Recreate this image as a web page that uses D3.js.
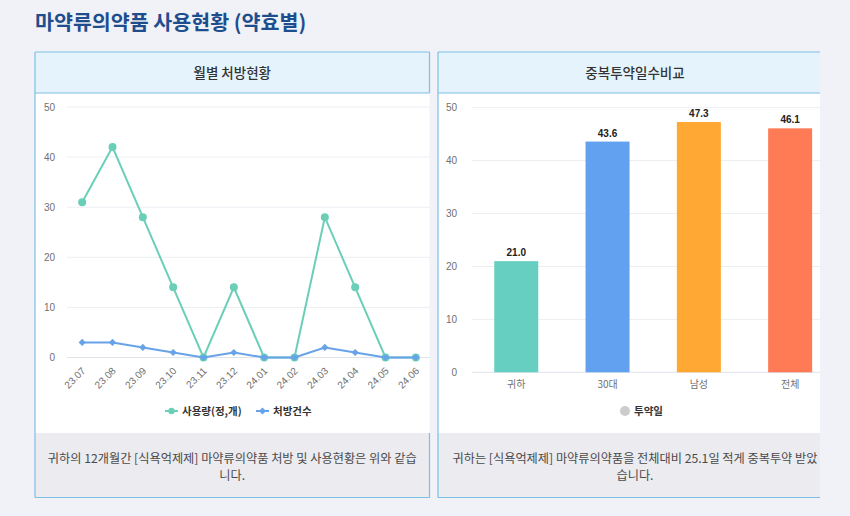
<!DOCTYPE html>
<html><head><meta charset="utf-8">
<script src="https://cdn.jsdelivr.net/npm/d3@7"></script>
<style>
html,body{margin:0;padding:0;background:#f0f2f7;}
svg{display:block;}
</style></head>
<body>
<svg id="c" width="850" height="516"></svg>
<script>
// ---------- data ----------
const months = ["23.07","23.08","23.09","23.10","23.11","23.12","24.01","24.02","24.03","24.04","24.05","24.06"];
const usage = [31,42,28,14,0,14,0,0,28,14,0,0];
const prescriptions = [3,3,2,1,0,1,0,0,2,1,0,0];
const lineTicks = [0,10,20,30,40,50];

const barCats = ["귀하","30대","남성","전체"];
const barVals = [21.0,43.6,47.3,46.1];
const barColors = ["#66cfc1","#62a1f0","#ffa833","#ff7b55"];
const barTicks = [0,10,20,30,40,50];

const title = "마약류의약품 사용현황 (약효별)";
const leftHeader = "월별 처방현황";
const rightHeader = "중복투약일수비교";
const leftNote = ["귀하의 12개월간 [식욕억제제] 마약류의약품 처방 및 사용현황은 위와 같습","니다."];
const rightNote = ["귀하는 [식욕억제제] 마약류의약품을 전체대비 25.1일 적게 중복투약 받았","습니다."];
const legendLine = ["사용량(정,개)","처방건수"];
const legendBar = ["투약일"];

// ---------- drawing ----------
const svg = d3.select("#c");
const KR = "'Noto Sans CJK KR','Noto Sans',sans-serif";
const NUM = "'Liberation Sans',Arial,sans-serif";
const border = "#7ebfe6";

svg.append("rect").attr("width",850).attr("height",516).attr("fill","#f0f2f7");
svg.append("text").attr("x",35).attr("y",30).text(title)
  .attr("font-family",KR).attr("font-size",20.6).attr("font-weight",700).attr("fill","#1e4e8e");

const defs = svg.append("defs");
defs.append("clipPath").attr("id","clipR").append("rect").attr("x",430).attr("y",0).attr("width",390).attr("height",516);

function panel(g, x0, x1, header, note, rightBorder){
  g.append("rect").attr("x",x0).attr("y",93).attr("width",x1-x0).attr("height",340).attr("fill","#fff");
  g.append("rect").attr("x",x0).attr("y",52).attr("width",x1-x0).attr("height",41).attr("fill","#e4f3fc");
  g.append("rect").attr("x",x0).attr("y",433).attr("width",x1-x0).attr("height",64).attr("fill","#ebebf0");
  const ln = (a,b,c,d)=>g.append("line").attr("x1",a).attr("y1",b).attr("x2",c).attr("y2",d).attr("stroke",border).attr("stroke-width",1.2);
  ln(x0,52,x1,52); ln(x0,93,x1,93); ln(x0,52,x0,497.5); ln(x0,497.5,x1,497.5);
  if(rightBorder){ ln(x1,52,x1,93); ln(x1,433,x1,497.5); }
  const cx = (x0+(rightBorder?x1:x0+394))/2;
  g.append("text").attr("x",cx).attr("y",78).attr("text-anchor","middle").text(header)
    .attr("font-family",KR).attr("font-size",13.5).attr("font-weight",500).attr("fill","#333");
  note.forEach((t,i)=>g.append("text").attr("x",cx).attr("y",463+i*17).attr("text-anchor","middle").text(t)
    .attr("font-family",KR).attr("font-size",12.2).attr("fill","#4a4a4a"));
}

// left panel
const gL = svg.append("g");
panel(gL,35,429.5,leftHeader,leftNote,true);

const xL = d3.scaleBand().domain(months).range([67,431]);
const yL = d3.scaleLinear().domain([0,50]).range([357.5,107]);

lineTicks.forEach(t=>{
  gL.append("line").attr("x1",67).attr("x2",430).attr("y1",yL(t)).attr("y2",yL(t))
    .attr("stroke", t===0?"#dfe3ea":"#eceef2").attr("stroke-width",1);
});
const axL = gL.append("g").attr("transform","translate(57,0)")
  .call(d3.axisLeft(yL).tickValues(lineTicks).tickSize(0).tickPadding(2));
axL.select(".domain").remove();
axL.selectAll("text").attr("font-family",NUM).attr("font-size",10).attr("fill","#707070");

const axXL = gL.append("g").attr("transform","translate(0,357.5)")
  .call(d3.axisBottom(xL).tickSize(0).tickPadding(0));
axXL.select(".domain").remove();
axXL.selectAll("text").attr("font-family",NUM).attr("font-size",10).attr("fill","#707070")
  .attr("text-anchor","end").attr("dy",0).attr("y",0)
  .attr("transform","translate(4,14) rotate(-45)");

const cxL = d => xL(d)+xL.bandwidth()/2;
const green = "#6bcfb8", blue = "#68a2e8";
const lineGen = vals => d3.line().x((d,i)=>cxL(months[i])).y(d=>yL(d))(vals);
gL.append("path").attr("d",lineGen(usage)).attr("fill","none").attr("stroke",green).attr("stroke-width",2);
gL.selectAll(".pu").data(usage).join("circle").attr("cx",(d,i)=>cxL(months[i])).attr("cy",d=>yL(d)).attr("r",4).attr("fill",green);
gL.append("path").attr("d",lineGen(prescriptions)).attr("fill","none").attr("stroke",blue).attr("stroke-width",2);
const diamond = d3.symbol().type(d3.symbolSquare).size(26);
gL.selectAll(".pp").data(prescriptions).join("path").attr("d",diamond)
  .attr("transform",(d,i)=>`translate(${cxL(months[i])},${yL(d)}) rotate(45)`).attr("fill",blue);

// left legend
const lg = gL.append("g").attr("font-family",KR).attr("font-size",10.5).attr("font-weight",700).attr("fill","#333");
[[165,green,legendLine[0],"c"],[256,blue,legendLine[1],"d"]].forEach(([x,c,t,s])=>{
  lg.append("line").attr("x1",x).attr("x2",x+13).attr("y1",411).attr("y2",411).attr("stroke",c).attr("stroke-width",2);
  if(s==="c") lg.append("circle").attr("cx",x+6.5).attr("cy",411).attr("r",3.2).attr("fill",c);
  else lg.append("path").attr("d",diamond).attr("transform",`translate(${x+6.5},411) rotate(45)`).attr("fill",c);
  lg.append("text").attr("x",x+17).attr("y",415).text(t);
});

// right panel
const gR = svg.append("g").attr("clip-path","url(#clipR)");
panel(gR,438,832,rightHeader,rightNote,false);

const xR = d3.scaleBand().domain(barCats).range([470.6,835.8]).paddingInner(0.518).paddingOuter(0.259);
const yR = d3.scaleLinear().domain([0,50]).range([372.3,107.7]);
barTicks.forEach(t=>{
  gR.append("line").attr("x1",472).attr("x2",836).attr("y1",yR(t)).attr("y2",yR(t))
    .attr("stroke", t===0?"#dfe3ea":"#eceef2").attr("stroke-width",1);
});
const axR = gR.append("g").attr("transform","translate(459,0)")
  .call(d3.axisLeft(yR).tickValues(barTicks).tickSize(0).tickPadding(2));
axR.select(".domain").remove();
axR.selectAll("text").attr("font-family",NUM).attr("font-size",10).attr("fill","#707070");

gR.selectAll(".bar").data(barVals).join("rect")
  .attr("x",(d,i)=>xR(barCats[i])).attr("width",xR.bandwidth())
  .attr("y",d=>yR(d)).attr("height",d=>yR(0)-yR(d)).attr("fill",(d,i)=>barColors[i]);
gR.selectAll(".bl").data(barVals).join("text")
  .attr("x",(d,i)=>xR(barCats[i])+xR.bandwidth()/2).attr("y",d=>yR(d)-5)
  .attr("text-anchor","middle").text(d=>d.toFixed(1))
  .attr("font-family",NUM).attr("font-size",10).attr("font-weight",700).attr("fill","#222");

const axXR = gR.append("g").attr("transform","translate(0,372.3)")
  .call(d3.axisBottom(xR).tickSize(0).tickPadding(9));
axXR.select(".domain").remove();
axXR.selectAll("text").attr("font-family",KR).attr("font-size",10).attr("fill","#707070");

// right legend
gR.append("circle").attr("cx",625).attr("cy",411).attr("r",5).attr("fill","#cccccc");
gR.append("text").attr("x",634).attr("y",415).text(legendBar[0])
  .attr("font-family",KR).attr("font-size",10.5).attr("font-weight",700).attr("fill","#333");
</script>
</body></html>
